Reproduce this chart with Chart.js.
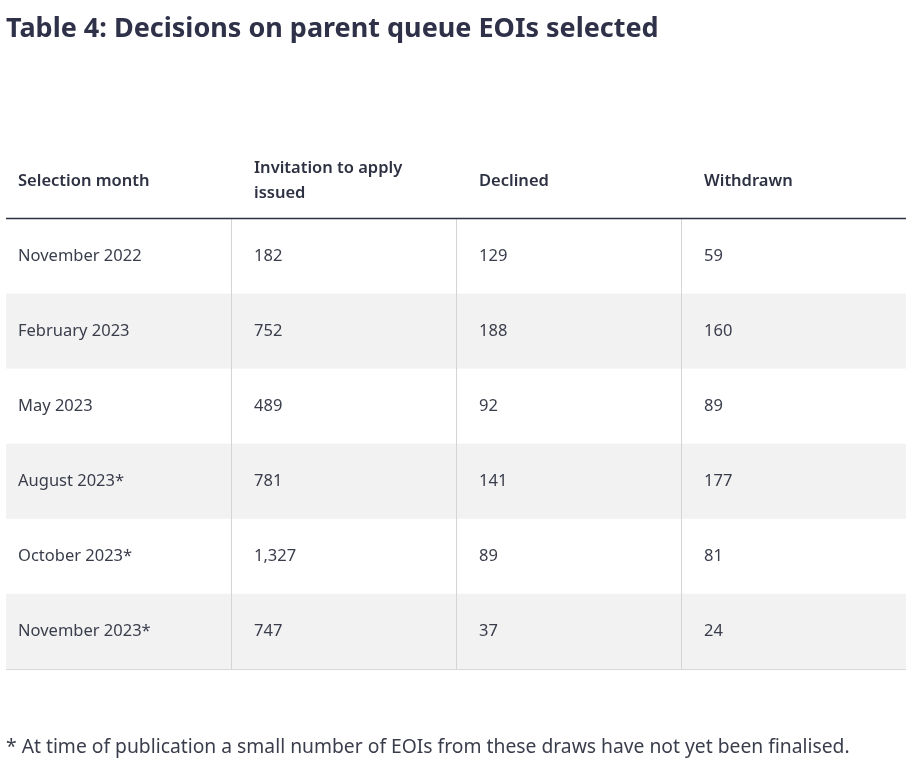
<!DOCTYPE html>
<html lang="en">

<head>
    <meta charset="UTF-8">
    <script src="https://cdn.jsdelivr.net/npm/chart.js"></script>
    <title>Table 4</title>
    <style>
        body { margin: 0; background: #fff; }
        #wrap { width: 917px; height: 762px; }
    </style>
</head>

<body>
    <div id="wrap">
        <canvas id="tableChart"></canvas>
    </div>

    <script>
        // table data
        const columns = ['Selection month', 'Invitation to apply issued', 'Declined', 'Withdrawn'];
        const months = ['November 2022', 'February 2023', 'May 2023', 'August 2023*', 'October 2023*', 'November 2023*'];
        const invitations = [182, 752, 489, 781, 1327, 747];
        const declined = [129, 188, 92, 141, 89, 37];
        const withdrawn = [59, 160, 89, 177, 81, 24];

        const rowLabels = ['header'].concat(months);
        const FONT = '"Noto Sans", sans-serif';

        function wrapText(ctx, text, maxWidth) {
            const words = text.split(' ');
            const lines = [];
            let line = '';
            words.forEach(w => {
                const test = line ? line + ' ' + w : w;
                if (ctx.measureText(test).width > maxWidth && line) {
                    lines.push(line);
                    line = w;
                } else {
                    line = test;
                }
            });
            lines.push(line);
            return lines;
        }

        const tablePlugin = {
            id: 'tablePlugin',
            beforeDraw(chart) {
                const { ctx, chartArea, scales: { x, y } } = chart;
                const rowH = y.getPixelForValue(1) - y.getPixelForValue(0);
                ctx.save();
                ctx.fillStyle = '#fff';
                ctx.fillRect(0, 0, chart.width, chart.height);
                // striped rows
                months.forEach((m, i) => {
                    if (i % 2 === 1) {
                        const yc = y.getPixelForValue(i + 1);
                        ctx.fillStyle = '#f2f2f2';
                        ctx.fillRect(chartArea.left, yc - rowH / 2, chartArea.right - chartArea.left, rowH);
                    }
                });
                ctx.restore();
            },
            afterDraw(chart) {
                const { ctx, chartArea, scales: { x, y } } = chart;
                const rowH = y.getPixelForValue(1) - y.getPixelForValue(0);
                const colW = x.getPixelForValue(1) - x.getPixelForValue(0);
                const headBottom = y.getPixelForValue(0) + rowH / 2;
                ctx.save();

                // vertical dividers
                ctx.strokeStyle = '#d4d4d4';
                ctx.lineWidth = 1;
                for (let c = 1; c < columns.length; c++) {
                    const xl = Math.floor(x.getPixelForValue(c) - colW / 2) + 0.5;
                    ctx.beginPath();
                    ctx.moveTo(xl, headBottom);
                    ctx.lineTo(xl, chartArea.bottom);
                    ctx.stroke();
                }
                // bottom border
                ctx.strokeStyle = '#d6d6d6';
                ctx.beginPath();
                ctx.moveTo(chartArea.left, Math.round(chartArea.bottom) + 0.5);
                ctx.lineTo(chartArea.right, Math.round(chartArea.bottom) + 0.5);
                ctx.stroke();
                // header border
                ctx.strokeStyle = '#2d3142';
                ctx.lineWidth = 1.5;
                ctx.beginPath();
                ctx.moveTo(chartArea.left, headBottom);
                ctx.lineTo(chartArea.right, headBottom);
                ctx.stroke();

                // header text
                ctx.textBaseline = 'middle';
                ctx.textAlign = 'left';
                ctx.fillStyle = '#2d3142';
                ctx.font = '600 16.5px ' + FONT;
                columns.forEach((col, c) => {
                    const left = x.getPixelForValue(c) - colW / 2;
                    const pad = c === 0 ? 12 : 23;
                    const lines = wrapText(ctx, col, colW - 2 * pad);
                    const lh = 25;
                    const yc = y.getPixelForValue(0);
                    lines.forEach((ln, k) => {
                        ctx.fillText(ln, left + pad, yc + (k - (lines.length - 1) / 2) * lh);
                    });
                });

                // body text
                ctx.fillStyle = '#3a3d4b';
                ctx.font = '400 16.5px ' + FONT;
                const series = [months, invitations, declined, withdrawn];
                months.forEach((m, i) => {
                    const yc = y.getPixelForValue(i + 1);
                    series.forEach((s, c) => {
                        const left = x.getPixelForValue(c) - colW / 2;
                        const pad = c === 0 ? 12 : 23;
                        const v = s[i];
                        const txt = typeof v === 'number' ? v.toLocaleString('en-NZ') : v;
                        ctx.fillText(txt, left + pad, yc);
                    });
                });
                ctx.restore();
            }
        };

        const ctx = document.getElementById('tableChart').getContext('2d');
        new Chart(ctx, {
            type: 'bar',
            data: {
                labels: columns,
                datasets: []
            },
            options: {
                responsive: true,
                maintainAspectRatio: false,
                animation: false,
                layout: {
                    padding: { left: 6, right: 11, top: 0, bottom: 0 }
                },
                scales: {
                    x: {
                        type: 'category',
                        labels: columns,
                        offset: true,
                        display: false
                    },
                    y: {
                        type: 'category',
                        labels: rowLabels,
                        offset: true,
                        display: false
                    }
                },
                plugins: {
                    legend: { display: false },
                    tooltip: { enabled: false },
                    title: {
                        display: true,
                        text: 'Table 4: Decisions on parent queue EOIs selected',
                        align: 'start',
                        color: '#2e3148',
                        font: { family: FONT, size: 27, weight: 'bold' },
                        padding: { top: 13, bottom: 98 }
                    },
                    subtitle: {
                        display: true,
                        position: 'bottom',
                        text: '* At time of publication a small number of EOIs from these draws have not yet been finalised.',
                        align: 'start',
                        color: '#3a3d4b',
                        font: { family: FONT, size: 19.3, weight: 'normal' },
                        padding: { top: 67, bottom: 3 }
                    }
                }
            },
            plugins: [tablePlugin]
        });
    </script>
</body>

</html>
